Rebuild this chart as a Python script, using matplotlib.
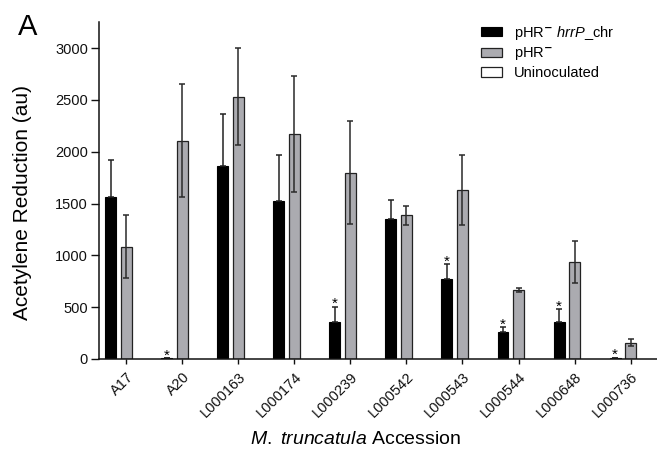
import numpy as np
import matplotlib
matplotlib.use('Agg')
import matplotlib.pyplot as plt
from matplotlib.patches import Patch

plt.rcParams['font.family'] = ['Liberation Sans', 'DejaVu Sans']
plt.rcParams['mathtext.fontset'] = 'custom'
plt.rcParams['mathtext.rm'] = 'Liberation Sans'
plt.rcParams['mathtext.it'] = 'Liberation Sans:italic'

accessions = ['A17', 'A20', 'L000163', 'L000174', 'L000239',
              'L000542', 'L000543', 'L000544', 'L000648', 'L000736']
hrrp_chr = [1566, 8, 1865, 1521, 360, 1353, 772, 260, 354, 12]
hrrp_chr_err = [355, 0, 495, 445, 145, 178, 145, 46, 125, 0]
phr = [1083, 2106, 2530, 2173, 1797, 1386, 1630, 666, 936, 157]
phr_err = [303, 547, 467, 560, 496, 93, 341, 22, 205, 36]
uninoc = [0, 0, 0, 0, 0, 0, 0, 0, 0, 0]
signif = [False, True, False, False, True, False, True, True, True, True]

x = np.arange(len(accessions))
w = 0.195
off = 0.277

fig = plt.figure(figsize=(6.57, 4.51), dpi=100)
ax = fig.add_axes([0.151, 0.204, 0.849, 0.747])

ax.bar(x - off, hrrp_chr, w, color='black', edgecolor='black', lw=0.8)
ax.errorbar(x - off, hrrp_chr, yerr=[np.zeros(len(x)), hrrp_chr_err], fmt='none',
            ecolor='#222222', elinewidth=1.1, capsize=2.5, capthick=1.1)
ax.bar(x, phr, w, color='#ababb0', edgecolor='#222222', lw=0.9)
ax.errorbar(x, phr, yerr=phr_err, fmt='none', ecolor='#2a2a2a',
            elinewidth=1.1, capsize=2.5, capthick=1.1)
ax.bar(x + off, uninoc, w, color='white', edgecolor='none')

for i in range(len(x)):
    if signif[i]:
        ax.annotate('*', (x[i] - off, hrrp_chr[i] + hrrp_chr_err[i]),
                    xytext=(0, -1), textcoords='offset points',
                    ha='center', va='baseline', fontsize=11)

ax.set_xlim(-0.48, 9.47)
ax.set_ylim(0, 3250)
ax.set_yticks(np.arange(0, 3001, 500))
ax.set_xticks(x)
ax.set_xticklabels(accessions, rotation=45, ha='right', rotation_mode='anchor')
ax.tick_params(axis='both', direction='out', width=1, labelsize=10.5, colors='#111111')
ax.tick_params(axis='y', length=6, pad=2)
ax.tick_params(axis='x', length=3.5, pad=4)
for s in ['top', 'right']:
    ax.spines[s].set_visible(False)
for s in ['left', 'bottom']:
    ax.spines[s].set_linewidth(1.1)
    ax.spines[s].set_color('#111111')

ax.set_ylabel('Acetylene Reduction (au)', fontsize=15)
ax.yaxis.set_label_coords(-0.12, 0.465)
ax.set_xlabel(r'$\it{M.\ truncatula}$ Accession', fontsize=14)
ax.xaxis.set_label_coords(0.46, -0.215)

handles = [Patch(facecolor='black', edgecolor='black', lw=0.8),
           Patch(facecolor='#ababb0', edgecolor='#222222', lw=0.9),
           Patch(facecolor='white', edgecolor='#222222', lw=0.9)]
labels = [r'pHR$^{\mathbf{-}}$ $\it{hrrP}$_chr', r'pHR$^{\mathbf{-}}$', 'Uninoculated']
ax.legend(handles, labels, loc='upper left', bbox_to_anchor=(0.685, 0.995),
          frameon=False, fontsize=10.5, handlelength=1.45, handleheight=0.6,
          handletextpad=0.8, labelspacing=0.25, borderpad=0, borderaxespad=0)

fig.text(0.027, 0.94, 'A', fontsize=21, ha='left', va='center')

fig.savefig('out.png', dpi=100)
